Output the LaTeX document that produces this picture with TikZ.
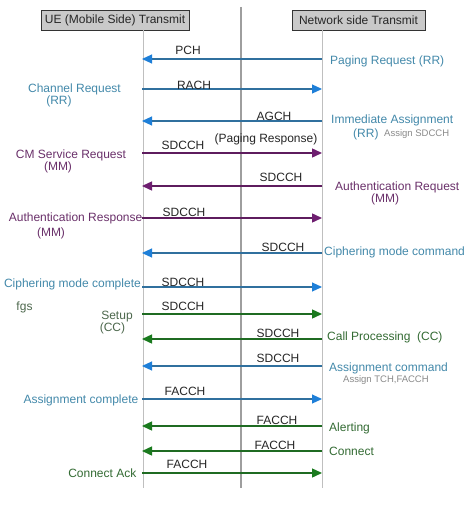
\documentclass[tikz,border=0pt]{standalone}
\usepackage{fontspec}
\setmainfont{Liberation Sans}
\usetikzlibrary{arrows.meta}
\definecolor{lblue}{HTML}{30709E}
\definecolor{hblue}{HTML}{1E7FD8}
\definecolor{tblue}{HTML}{4389AA}
\definecolor{lpurp}{HTML}{5E1C5E}
\definecolor{hpurp}{HTML}{6E1E70}
\definecolor{tpurp}{HTML}{6A306A}
\definecolor{lgreen}{HTML}{1F6B22}
\definecolor{hgreen}{HTML}{1A7A1E}
\definecolor{tgreen}{HTML}{336B33}
\definecolor{tgreengray}{HTML}{4D684D}
\definecolor{tgray}{HTML}{8A8A8A}
\definecolor{boxfill}{HTML}{C9C9C9}
\tikzset{
  txt/.style={inner sep=0pt, font=\fontsize{12}{14}\selectfont, anchor=base},
  small/.style={inner sep=0pt, font=\fontsize{9.5}{11}\selectfont, anchor=base, text=tgray},
  chan/.style={txt, text=black!85},
  hdr/.style={draw=black!80, fill=boxfill, line width=0.8pt, minimum height=20pt, inner sep=0pt, font=\fontsize{12}{14}\selectfont, text=black!85},
  life/.style={draw=black!25, line width=1pt},
  midline/.style={draw=black!38, line width=1.6pt},
  msgb/.style={draw=lblue, line width=1.1pt, -{Triangle[length=10pt,width=9pt,color=hblue]}},
  msgp/.style={draw=lpurp, line width=1.4pt, -{Triangle[length=10pt,width=9pt,color=hpurp]}},
  msgg/.style={draw=lgreen, line width=1.4pt, -{Triangle[length=10pt,width=9pt,color=hgreen]}},
}
\begin{document}
\begin{tikzpicture}[x=1pt,y=-1pt]
\useasboundingbox (0,0) rectangle (474,519);
\fill[white] (0,0) rectangle (474,519);
% headers
\node[hdr, minimum width=148pt] (ue) at (115,20) {UE (Mobile Side) Transmit};
\node[hdr, minimum width=133pt] (nw) at (358.5,20) {Network side Transmit};
% lifelines
\coordinate (lt) at (143,30); \coordinate (lb) at (143,488);
\coordinate (rt) at (322,30); \coordinate (rb) at (322,488);
\coordinate (mt) at (241,7);  \coordinate (mb) at (241,488);
\draw[life] (lt) -- (lb);
\draw[life] (rt) -- (rb);
\draw[midline] (mt) -- (mb);
% message endpoints
\foreach \i/\y in {1/59,2/89,3/121,4/153,5/186,6/218,7/253,8/287,9/314,10/339,11/366,12/399,13/426,14/451,15/473}{
  \coordinate (l\i) at (142,\y);
  \coordinate (r\i) at (322,\y);
}
% messages
\draw[msgb] (r1) -- (l1);
\draw[msgb] (l2) -- (r2);
\draw[msgb] (r3) -- (l3);
\draw[msgp] (l4) -- (r4);
\draw[msgp] (r5) -- (l5);
\draw[msgp] (l6) -- (r6);
\draw[msgb] (r7) -- (l7);
\draw[msgb] (l8) -- (r8);
\draw[msgg] (l9) -- (r9);
\draw[msgg] (r10) -- (l10);
\draw[msgb] (r11) -- (l11);
\draw[msgb] (l12) -- (r12);
\draw[msgg] (r13) -- (l13);
\draw[msgg] (r14) -- (l14);
\draw[msgg] (l15) -- (r15);
% channel labels
\node[chan] (c1) at (188,54.5) {PCH};
\node[chan] (c2) at (194,89.5) {RACH};
\node[chan] (c3) at (274,120.5) {AGCH};
\node[chan] (c4) at (183,149.5) {SDCCH};
\node[chan] (c4b) at (266,142.5) {(Paging Response)};
\node[chan] (c5) at (281,181.5) {SDCCH};
\node[chan] (c6) at (184,216.5) {SDCCH};
\node[chan] (c7) at (283,251.5) {SDCCH};
\node[chan] (c8) at (183,286.5) {SDCCH};
\node[chan] (c9) at (183,310.5) {SDCCH};
\node[chan] (c10) at (278,337.5) {SDCCH};
\node[chan] (c11) at (278,362.5) {SDCCH};
\node[chan] (c12) at (185,395.5) {FACCH};
\node[chan] (c13) at (277,424.5) {FACCH};
\node[chan] (c14) at (275,449.5) {FACCH};
\node[chan] (c15) at (187,468.5) {FACCH};
% left labels
\node[txt, text=tblue] (t2a) at (74.5,92.5) {Channel Request};
\node[txt, text=tblue] (t2b) at (59,104.5) {(RR)};
\node[txt, text=tpurp] (t4a) at (71,158.5) {CM Service Request};
\node[txt, text=tpurp] (t4b) at (58,170.5) {(MM)};
\node[txt, text=tpurp, anchor=base east] (t6a) at (142.5,221.5) {Authentication Response};
\node[txt, text=tpurp] (t6b) at (51,236.5) {(MM)};
\node[txt, text=tblue, anchor=base east] (t8) at (141,287.5) {Ciphering mode complete};
\node[txt, text=tgreengray] (fgs) at (24.5,310) {fgs};
\node[txt, text=tgreengray] (t9a) at (117,319.5) {Setup};
\node[txt, text=tgreengray] (t9b) at (112.5,331.5) {(CC)};
\node[txt, text=tblue, anchor=base east] (t12) at (138.5,403.5) {Assignment complete};
\node[txt, text=tgreen, anchor=base east] (t15) at (136.5,477.5) {Connect Ack};
% right labels
\node[txt, text=tblue, anchor=base west] (t1) at (330,64.5) {Paging Request (RR)};
\node[txt, text=tblue, anchor=base west] (t3a) at (331,123.5) {Immediate Assignment};
\node[txt, text=tblue, anchor=base west] (t3b) at (353,137.5) {(RR)};
\node[small, anchor=base west] (t3c) at (384,136.5) {Assign SDCCH};
\node[txt, text=tpurp, anchor=base west] (t5a) at (335,190.5) {Authentication Request};
\node[txt, text=tpurp] (t5b) at (385,202.5) {(MM)};
\node[txt, text=tblue, anchor=base west] (t7) at (324,255.5) {Ciphering mode command};
\node[txt, text=tgreen, anchor=base west] (t10) at (327,340.5) {Call Processing\hspace{0.55em}(CC)};
\node[txt, text=tblue, anchor=base west] (t11a) at (329,371.5) {Assignment command};
\node[small, anchor=base west] (t11b) at (343,382.5) {Assign TCH,FACCH};
\node[txt, text=tgreen, anchor=base west] (t13) at (329,431.5) {Alerting};
\node[txt, text=tgreen, anchor=base west] (t14) at (329,455.5) {Connect};
\end{tikzpicture}
\end{document}
